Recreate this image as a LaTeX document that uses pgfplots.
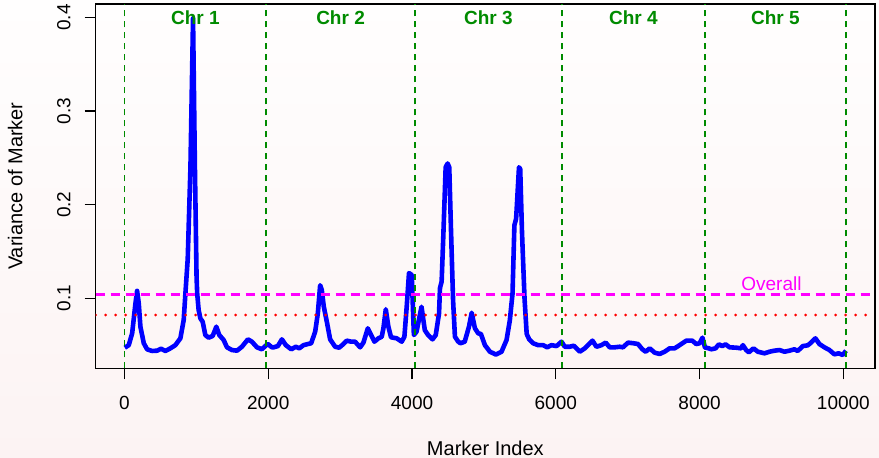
\documentclass[border=0pt]{standalone}
\usepackage{fontspec}
\setmainfont{Liberation Sans}
\usepackage{pgfplots}
\pgfplotsset{compat=1.18}
\definecolor{bgtop}{HTML}{FFFEFE}
\definecolor{bgbot}{HTML}{FCF3F3}
\definecolor{chrgreen}{HTML}{008B00}
\definecolor{rmagenta}{HTML}{FF00FF}
\newcommand{\fs}{\fontsize{9.5}{11}\selectfont}

\begin{document}
\begin{tikzpicture}
\path[use as bounding box] (0,0) rectangle (439.5pt,229pt);
\shade[top color=bgtop,bottom color=bgbot] (0,0) rectangle (439.5pt,229pt);
\begin{axis}[
  at={(47.85pt,44.85pt)}, anchor=south west,
  scale only axis, width=389.65pt, height=182.15pt,
  xmin=-400, xmax=10440, ymin=0.0253, ymax=0.4143,
  xtick={0,2000,...,10000}, ytick={0.1,0.2,0.3,0.4},
  xtick pos=bottom, ytick pos=left, tick align=outside,
  major tick length=5.5pt,
  every tick/.style={black, line width=0.6pt},
  axis line style={line width=0.75pt},
  scaled ticks=false,
  /pgf/number format/assume math mode=true,
  /pgf/number format/1000 sep={},
  tick label style={font=\fs},
  xticklabel style={yshift=-5pt},
  yticklabel shift=3.5pt,
  yticklabel style={rotate=90, anchor=south},
  xlabel={Marker Index}, ylabel={Variance of Marker},
  label style={font=\fs},
  every axis x label/.style={at={(axis description cs:0.5,-0.2196)}, anchor=center},
  every axis y label/.style={at={(axis description cs:-0.1034,0.5)}, anchor=center, rotate=90},
]
% variance per marker
\addplot[blue, line width=2.3pt, line join=round] coordinates {
 (5,0.0473) (60,0.050) (107,0.0626) (153,0.0946) (176,0.108) (199,0.0946)
 (222,0.0697) (269,0.052) (315,0.0456) (384,0.0438) (454,0.0441) (509,0.0462)
 (569,0.0438) (639,0.0466) (708,0.050) (778,0.0573) (824,0.0768) (852,0.110)
 (880,0.142) (918,0.24) (954,0.399) (980,0.24) (1003,0.123) (1012,0.105)
 (1032,0.0875) (1056,0.0786) (1088,0.075) (1125,0.0608) (1171,0.058) (1227,0.0598)
 (1278,0.0697) (1319,0.0608) (1380,0.0555) (1426,0.0477) (1495,0.0448) (1565,0.0441)
 (1634,0.0483) (1717,0.0562) (1773,0.0537) (1843,0.0477) (1912,0.0456) (1958,0.049)
 (1995,0.0512) (2051,0.0477) (2074,0.0477) (2134,0.049) (2190,0.0562) (2245,0.050)
 (2320,0.0456) (2384,0.0483) (2431,0.0466) (2491,0.050) (2551,0.0512) (2597,0.052)
 (2653,0.0644) (2690,0.084) (2722,0.114) (2745,0.109) (2773,0.091) (2815,0.075)
 (2861,0.0562) (2931,0.0483) (2986,0.0473) (3046,0.0512) (3093,0.0548) (3153,0.0537)
 (3208,0.0537) (3278,0.0477) (3324,0.0527) (3385,0.068) (3431,0.0608) (3477,0.0537)
 (3533,0.0573) (3579,0.059) (3602,0.068) (3635,0.0883) (3671,0.0697) (3708,0.0584)
 (3787,0.0573) (3857,0.0537) (3894,0.059) (3926,0.091) (3958,0.127) (3996,0.125)
 (4026,0.0608) (4063,0.0644) (4132,0.091) (4178,0.066) (4224,0.0608) (4285,0.0562)
 (4330,0.0608) (4376,0.084) (4389,0.111) (4412,0.118) (4435,0.166) (4468,0.240)
 (4495,0.244) (4518,0.240) (4541,0.176) (4571,0.098) (4597,0.059) (4640,0.054)
 (4673,0.052) (4733,0.0537) (4792,0.0697) (4830,0.0846) (4875,0.068) (4921,0.0626)
 (4958,0.062) (5014,0.050) (5083,0.043) (5167,0.040) (5245,0.043) (5315,0.0555)
 (5361,0.0768) (5398,0.105) (5424,0.178) (5448,0.185) (5488,0.240) (5505,0.238)
 (5530,0.17) (5565,0.100) (5595,0.062) (5630,0.0562) (5685,0.052) (5755,0.050)
 (5824,0.050) (5880,0.0477) (5940,0.050) (6010,0.049) (6079,0.0537) (6125,0.0483)
 (6194,0.0483) (6250,0.0494) (6333,0.043) (6403,0.0466) (6510,0.0548) (6565,0.0483)
 (6634,0.050) (6694,0.0527) (6750,0.0477) (6819,0.0477) (6889,0.0483) (6935,0.0477)
 (7004,0.0527) (7083,0.052) (7143,0.0512) (7204,0.0456) (7250,0.043) (7306,0.0466)
 (7375,0.042) (7444,0.0406) (7514,0.043) (7583,0.0466) (7653,0.0466) (7722,0.050)
 (7815,0.0548) (7898,0.0548) (7954,0.0512) (8000,0.052) (8040,0.058) (8075,0.0475)
 (8129,0.0466) (8162,0.0456) (8222,0.0466) (8268,0.0509) (8315,0.049) (8361,0.0509)
 (8417,0.0477) (8510,0.0473) (8579,0.0466) (8602,0.050) (8648,0.0448) (8685,0.0424)
 (8750,0.0466) (8810,0.043) (8903,0.0413) (8972,0.043) (9042,0.0441) (9111,0.0448)
 (9181,0.043) (9250,0.0441) (9319,0.0456) (9365,0.0438) (9435,0.049) (9504,0.0498)
 (9551,0.0527) (9611,0.0573) (9667,0.0512) (9736,0.0477) (9806,0.0448) (9875,0.0402)
 (9935,0.0413) (9991,0.0395) (10037,0.0441)
};
% chromosome boundaries
\addplot[chrgreen, line width=0.75pt, dash pattern=on 3pt off 2.5pt] coordinates {(1,0.0253) (1,0.4143)};
\addplot[chrgreen, line width=0.75pt, dash pattern=on 3pt off 2.5pt] coordinates {(1972,0.0253) (1972,0.4143)};
\addplot[chrgreen, line width=0.75pt, dash pattern=on 3pt off 2.5pt] coordinates {(4040,0.0253) (4040,0.4143)};
\addplot[chrgreen, line width=0.75pt, dash pattern=on 3pt off 2.5pt] coordinates {(6085,0.0253) (6085,0.4143)};
\addplot[chrgreen, line width=0.75pt, dash pattern=on 3pt off 2.5pt] coordinates {(8074,0.0253) (8074,0.4143)};
\addplot[chrgreen, line width=0.75pt, dash pattern=on 3pt off 2.5pt] coordinates {(10035,0.0253) (10035,0.4143)};
% thresholds
\addplot[rmagenta, line width=1.5pt, dash pattern=on 4.5pt off 3pt] coordinates {(-400,0.1043) (10440,0.1043)};
\addplot[red, line width=1.5pt, line cap=round, dash pattern=on 0pt off 5pt] coordinates {(-400,0.0822) (10440,0.0822)};
\node[rmagenta, font=\fs] at (axis cs:9000,0.1153) {Overall};
\node[chrgreen, font=\fs\bfseries] at (axis cs:986,0.3995) {Chr 1};
\node[chrgreen, font=\fs\bfseries] at (axis cs:3006,0.3995) {Chr 2};
\node[chrgreen, font=\fs\bfseries] at (axis cs:5062,0.3995) {Chr 3};
\node[chrgreen, font=\fs\bfseries] at (axis cs:7080,0.3995) {Chr 4};
\node[chrgreen, font=\fs\bfseries] at (axis cs:9054,0.3995) {Chr 5};
\end{axis}
\end{tikzpicture}
\end{document}
